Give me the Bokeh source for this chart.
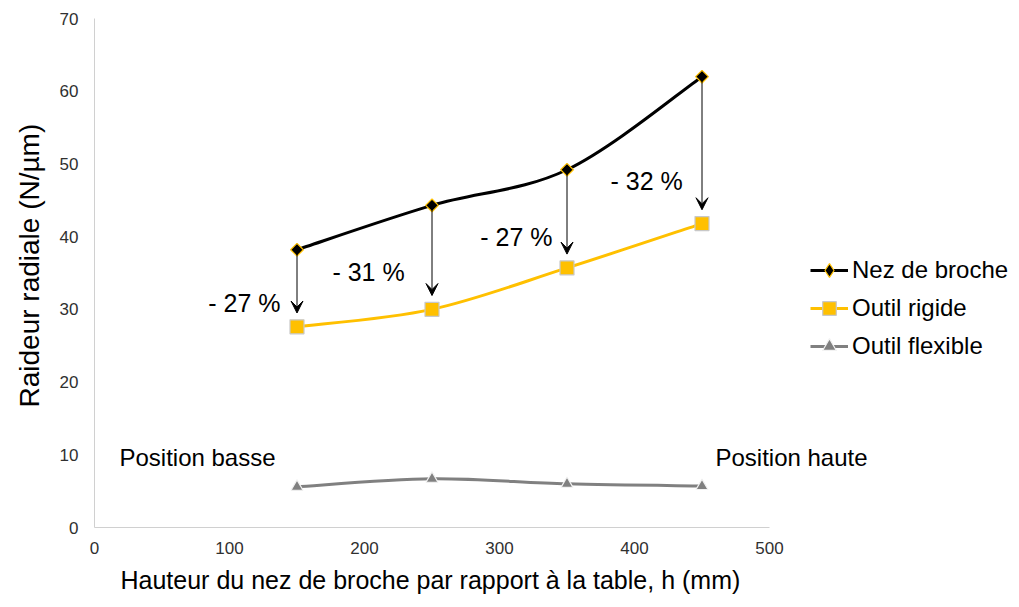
import math
from bokeh.plotting import figure
from bokeh.models import (Range1d, Legend, LegendItem, Label, Arrow, VeeHead,
                          ColumnDataSource, FixedTicker, Title)
from bokeh.embed import file_html
from bokeh.resources import INLINE

# ---- data ----
heights = [150, 250, 350, 450]
nez_broche = [38.2, 44.3, 49.2, 62.0]
outil_rigide = [27.6, 30.0, 35.7, 41.8]
outil_flexible = [5.6, 6.7, 6.0, 5.7]
reductions = ["- 27 %", "- 31 %", "- 27 %", "- 32 %"]
x_ticks = [0, 100, 200, 300, 400, 500]
y_ticks = [0, 10, 20, 30, 40, 50, 60, 70]

FONT = "Liberation Sans"
GOLD = "#FFC000"
GREY = "#808080"

# frame spans the full width to the right so that texts and the legend
# outside the 0-500 axis are not clipped; the axis itself stops at 500
X_END = 500 * (1019 - 94) / (769 - 94)

p = figure(width=1019, height=607, output_backend="svg", toolbar_location=None,
           x_range=Range1d(0, X_END), y_range=Range1d(0, 70),
           min_border_left=94, min_border_right=0, min_border_top=18,
           min_border_bottom=80)
p.outline_line_color = None
p.xgrid.visible = False
p.ygrid.visible = False

for ax in (p.xaxis[0], p.yaxis[0]):
    ax.axis_line_color = "#D0D0D0"
    ax.major_tick_line_color = None
    ax.major_tick_out = 0
    ax.major_tick_in = 0
    ax.minor_tick_line_color = None
    ax.minor_tick_out = 0
    ax.minor_tick_in = 0
    ax.major_label_text_font = FONT
    ax.major_label_text_font_size = "17px"
    ax.major_label_text_color = "#303030"

p.xaxis[0].bounds = (0, 500)
p.xaxis[0].ticker = FixedTicker(ticks=x_ticks)
p.yaxis[0].ticker = FixedTicker(ticks=y_ticks)
p.xaxis[0].major_label_standoff = 14
p.yaxis[0].major_label_standoff = 16

p.add_layout(Title(text="Hauteur du nez de broche par rapport à la table, h (mm)",
                   align="left", offset=26, vertical_align="bottom",
                   standoff=14, text_font=FONT, text_font_size="25px",
                   text_font_style="normal", text_color="black"), "below")
p.add_layout(Title(text="Raideur radiale (N/µm)",
                   align="left", offset=120, vertical_align="middle",
                   standoff=22, text_font=FONT, text_font_size="28px",
                   text_font_style="normal", text_color="black"), "left")


def smooth(xs, ys):
    n = len(xs)
    d = dict(x0=[], y0=[], x1=[], y1=[], cx0=[], cy0=[], cx1=[], cy1=[])
    for i in range(n - 1):
        pm = max(i - 1, 0)
        pp = min(i + 2, n - 1)
        d["x0"].append(xs[i]); d["y0"].append(ys[i])
        d["x1"].append(xs[i + 1]); d["y1"].append(ys[i + 1])
        d["cx0"].append(xs[i] + (xs[i + 1] - xs[pm]) / 6)
        d["cy0"].append(ys[i] + (ys[i + 1] - ys[pm]) / 6)
        d["cx1"].append(xs[i + 1] - (xs[pp] - xs[i]) / 6)
        d["cy1"].append(ys[i + 1] - (ys[pp] - ys[i]) / 6)
    return ColumnDataSource(d)


# name, values, line colour, marker, fill, marker outline, size, angle, legend marker
series = [
    ("Nez de broche", nez_broche, "black", "square", "black", GOLD, 9, math.pi / 4, "diamond"),
    ("Outil rigide", outil_rigide, GOLD, "square", GOLD, "#C8C8C8", 14, 0, None),
    ("Outil flexible", outil_flexible, GREY, "triangle", GREY, "#F2F2F2", 12, 0, None),
]

items = []
for name, ys, lc, marker, fc, mlc, size, ang, lmarker in series:
    lr = p.bezier(x0="x0", y0="y0", x1="x1", y1="y1", cx0="cx0", cy0="cy0",
                  cx1="cx1", cy1="cy1", source=smooth(heights, ys),
                  line_color=lc, line_width=3)
    sr = p.scatter(heights, ys, marker=marker, size=size, angle=ang,
                   fill_color=fc, line_color=mlc, line_width=1.2)
    if lmarker is not None:
        # legend-only marker (zero size on the plot, legend sizes it itself)
        sr = p.scatter(heights, ys, marker=lmarker, size=0, fill_color=fc,
                       line_color=mlc, line_width=1.2)
    items.append(LegendItem(label=name, renderers=[lr, sr]))

legend = Legend(items=items, location=(716, 164), padding=0, margin=0,
                spacing=4, glyph_width=38, glyph_height=34, label_height=34,
                label_standoff=4, border_line_color=None,
                background_fill_alpha=0, label_text_font=FONT,
                label_text_font_size="24px", label_text_color="black")
p.add_layout(legend, "center")

# arrows from spindle nose to rigid tool
for x, y1, y2 in zip(heights, nez_broche, outil_rigide):
    p.add_layout(Arrow(end=VeeHead(size=12, line_width=1, line_color="black"),
                       x_start=x, y_start=y1, x_end=x, y_end=y2 + 1.9,
                       line_width=1, line_color="black"))

label_pos = [(111, 30.9), (203, 35.1), (312.5, 39.9), (409, 47.7)]
for txt, (lx, ly) in zip(reductions, label_pos):
    p.add_layout(Label(x=lx, y=ly, text=txt, text_font=FONT,
                       text_font_size="25px", text_align="center",
                       text_baseline="middle", text_color="black"))

for txt, lx in (("Position basse", 76.3), ("Position haute", 516.3)):
    p.add_layout(Label(x=lx, y=9.6, text=txt, text_font=FONT,
                       text_font_size="24px", text_align="center",
                       text_baseline="middle", text_color="black"))

open("out.html", "w").write(file_html(p, INLINE))
